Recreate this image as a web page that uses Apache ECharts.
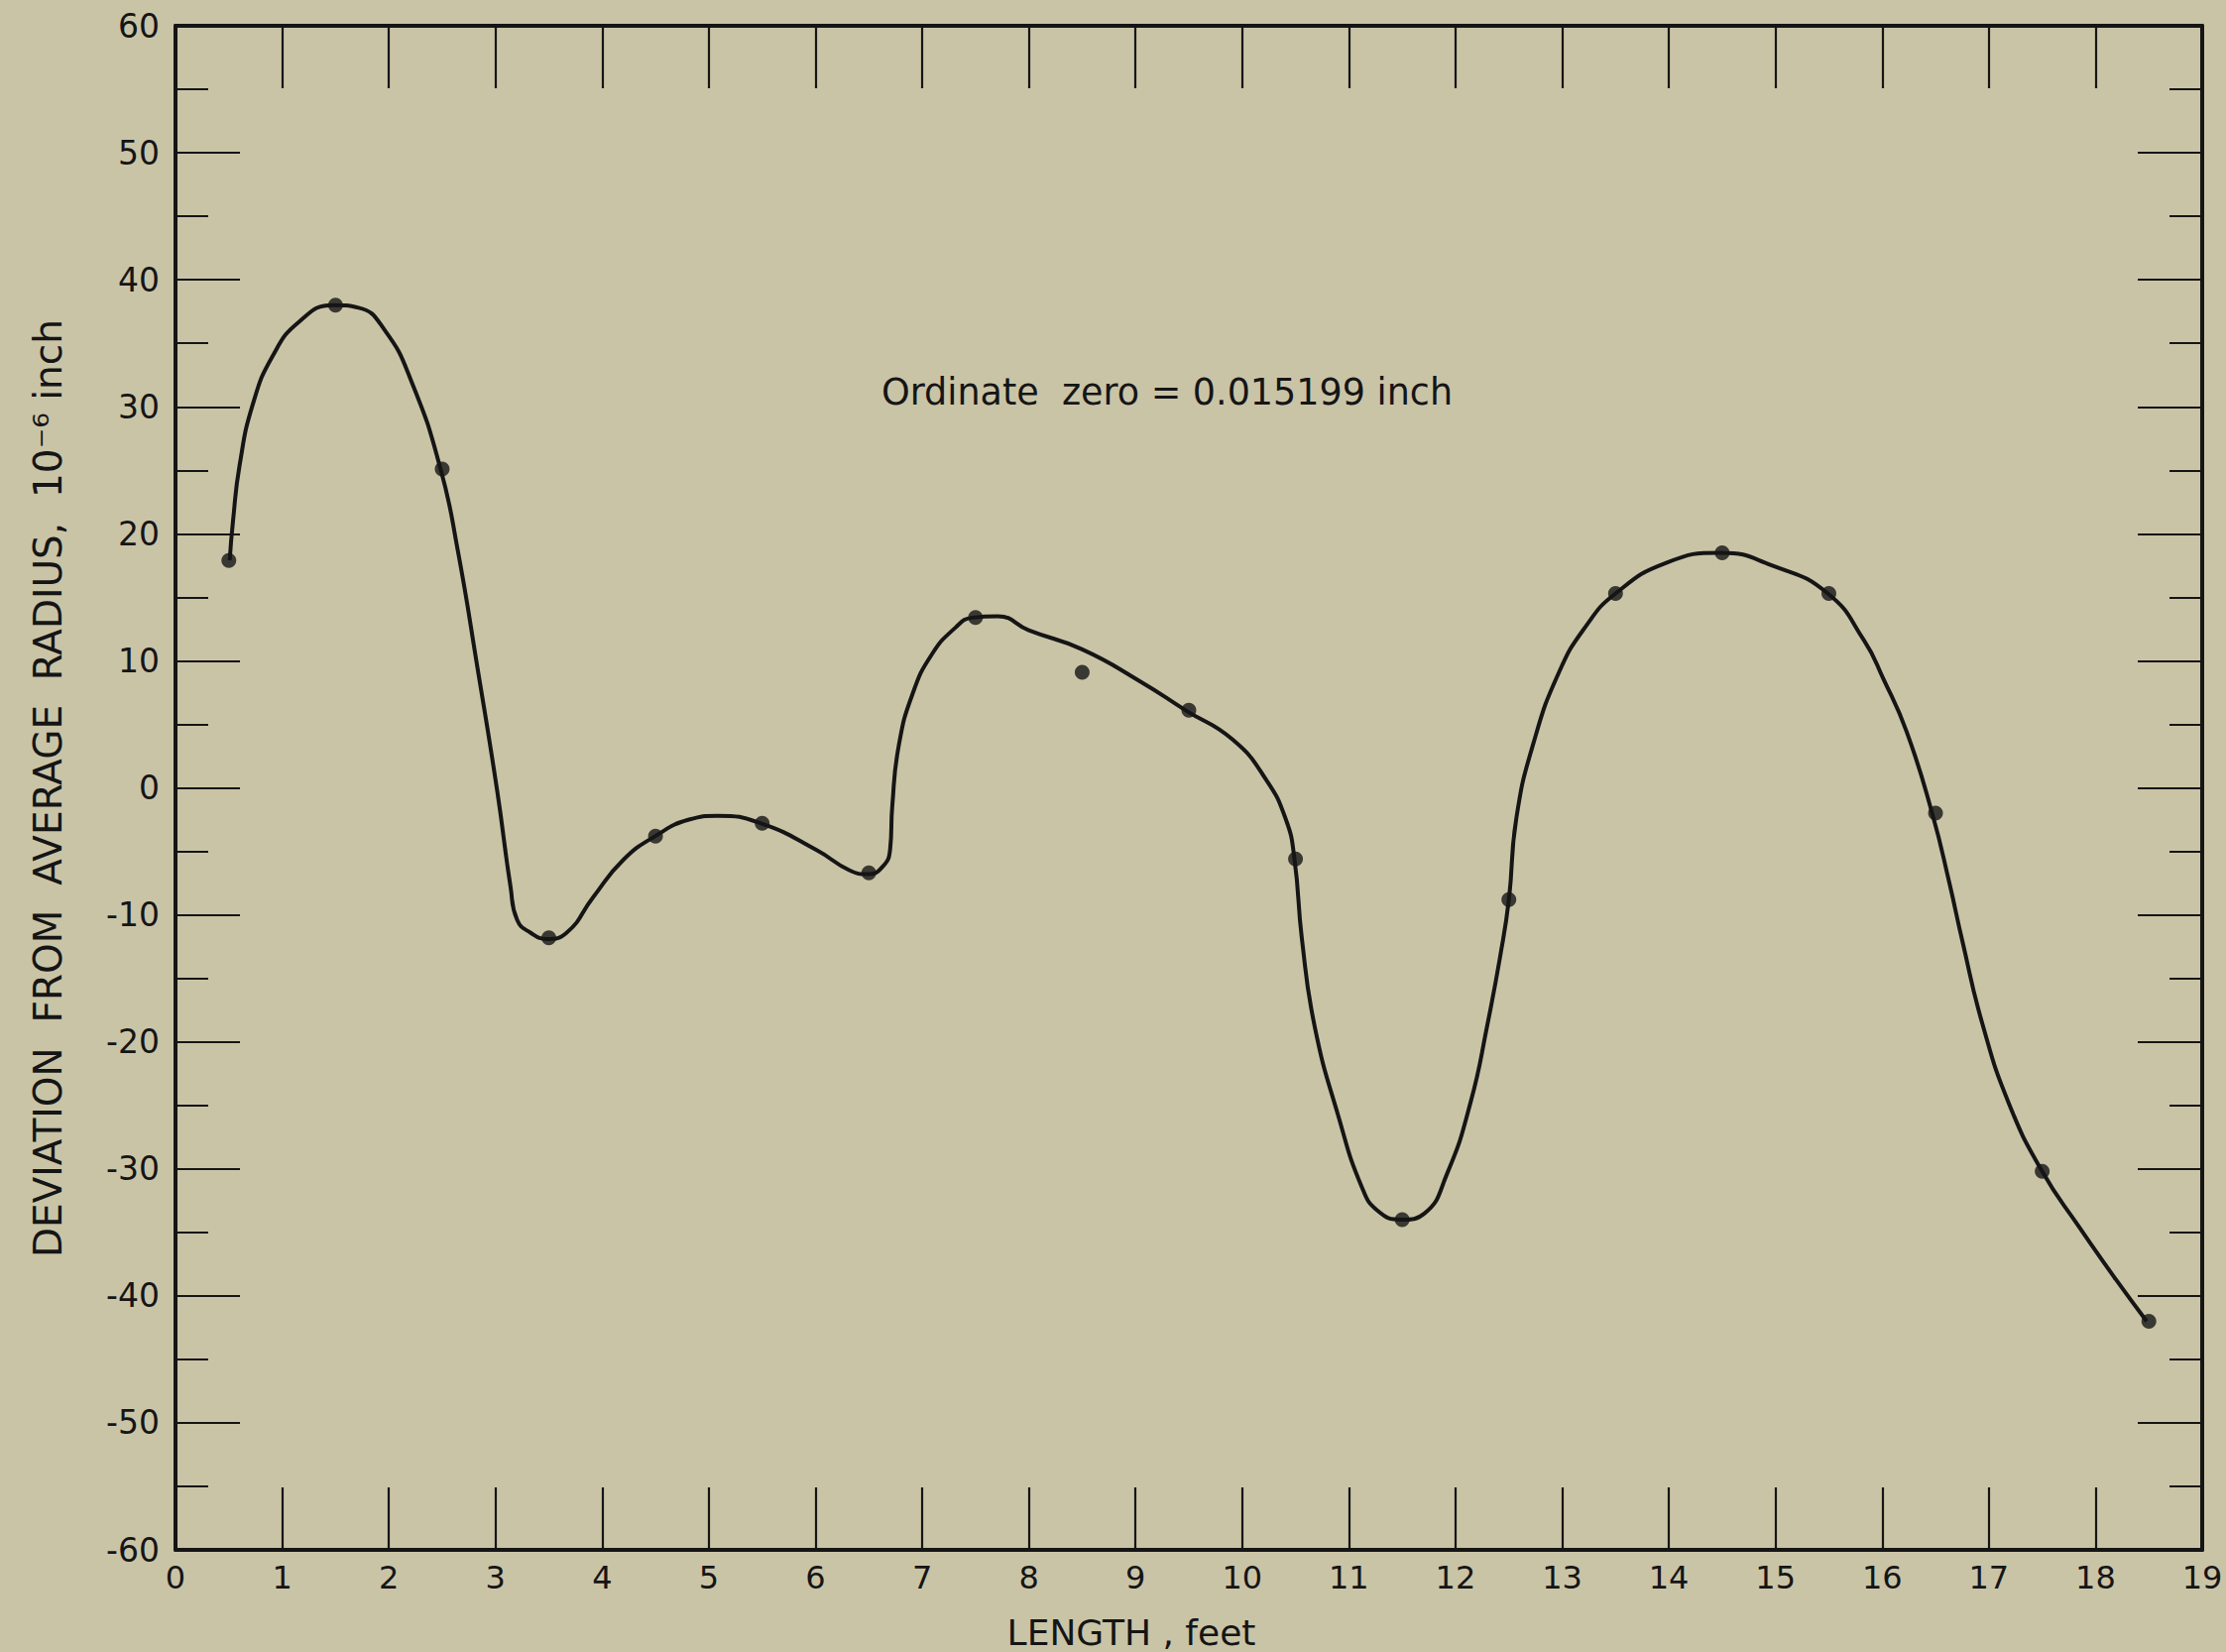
<!DOCTYPE html>
<html>
<head>
<meta charset="utf-8">
<script src="https://cdn.jsdelivr.net/npm/echarts@6/dist/echarts.min.js"></script>
<style>
html,body{margin:0;padding:0;background:#cac4a7;}
#chart{width:2245px;height:1666px;}
</style>
</head>
<body>
<div id="chart"></div>
<script>
// Observed points (length in feet, deviation in 10^-6 inch)
const pointLengths = [0.5, 1.5, 2.5, 3.5, 4.5, 5.5, 6.5, 7.5, 8.5, 9.5, 10.5, 11.5, 12.5, 13.5, 14.5, 15.5, 16.5, 17.5, 18.5];
const pointDeviations = [17.9, 38.0, 25.1, -11.8, -3.8, -2.8, -6.7, 13.4, 9.1, 6.1, -5.6, -34.0, -8.8, 15.3, 18.5, 15.3, -2.0, -30.2, -42.0];

// Hand-drawn smooth curve
const curveLengths = [0.508, 0.539, 0.601, 0.725, 0.911, 1.159, 1.478, 1.716, 1.964, 2.212, 2.485, 2.646, 2.832, 3.017, 3.141, 3.203, 3.327, 3.482, 3.668, 3.916, 4.195, 4.498, 4.814, 5.08, 5.49, 6.01, 6.32, 6.49, 6.63, 6.70, 6.72, 6.78, 6.91, 7.09, 7.31, 7.47, 7.71, 8.0, 8.5, 9.04, 9.47, 9.91, 10.22, 10.41, 10.49, 10.56, 10.68, 10.90, 11.12, 11.27, 11.49, 11.71, 11.92, 12.14, 12.30, 12.42, 12.50, 12.57, 12.73, 12.97, 13.22, 13.50, 13.97, 14.49, 14.97, 15.49, 15.83, 16.01, 16.23, 16.47, 16.63, 16.75, 16.94, 17.19, 17.50, 17.84, 18.19, 18.48];
const curveDeviations = [17.9, 21.0, 25.4, 30.2, 34.0, 36.7, 38.0, 37.8, 36.0, 32.0, 25.1, 18.7, 9.4, -0.3, -7.8, -10.4, -11.4, -11.9, -11.4, -8.6, -5.7, -3.8, -2.5, -2.2, -2.8, -4.9, -6.5, -6.8, -6.2, -4.8, -1.4, 3.3, 7.4, 10.5, 12.6, 13.4, 13.5, 12.4, 10.9, 8.4, 6.1, 3.8, 0.7, -2.5, -5.6, -11.9, -18.8, -25.8, -31.4, -33.3, -34.0, -33.5, -30.4, -24.8, -18.6, -13.2, -8.8, -2.4, 3.5, 9.1, 12.7, 15.3, 17.7, 18.5, 17.5, 15.3, 11.6, 8.6, 4.4, -2.05, -7.5, -12.0, -18.6, -24.9, -30.2, -34.5, -38.7, -42.0];

// Axis tick labels
const xTickLabels = ['0','1','2','3','4','5','6','7','8','9','10','11','12','13','14','15','16','17','18','19'];
const yTickLabels = ['-60','-50','-40','-30','-20','-10','0','10','20','30','40','50','60'];

const xTitle = 'LENGTH , feet';
const yTitle = 'DEVIATION  FROM  AVERAGE  RADIUS,  10\u207B\u2076 inch';
const note = 'Ordinate  zero = 0.015199 inch';

const ink = '#151515';
const font = '"DejaVu Sans", sans-serif';

const curveData = curveLengths.map((x, i) => [x, curveDeviations[i]]);
const pointData = pointLengths.map((x, i) => [x, pointDeviations[i]]);

const chart = echarts.init(document.getElementById('chart'), null, {renderer: 'svg'});

function xAxisBase(pos, showLabels) {
  return {
    type: 'value', position: pos, min: 0, max: 19, interval: 1,
    axisLine: {show: true, onZero: false, lineStyle: {color: ink, width: 4}},
    axisTick: {show: true, inside: true, length: 63, lineStyle: {color: ink, width: 2.2}},
    axisLabel: {show: showLabels, color: ink, fontFamily: font, fontSize: 32, margin: 12,
      formatter: v => xTickLabels[Math.round(v)]},
    splitLine: {show: false}
  };
}
function yAxisBase(pos, showLabels) {
  return {
    type: 'value', position: pos, min: -60, max: 60, interval: 10,
    axisLine: {show: true, onZero: false, lineStyle: {color: ink, width: 4}},
    axisTick: {show: true, inside: true, length: 65, lineStyle: {color: ink, width: 2.2}},
    minorTick: {show: true, splitNumber: 2, length: 33, lineStyle: {color: ink, width: 2.2}},
    axisLabel: {show: showLabels, color: ink, fontFamily: font, fontSize: 33, margin: 16,
      formatter: v => yTickLabels[Math.round((v + 60) / 10)]},
    splitLine: {show: false},
    minorSplitLine: {show: false}
  };
}

chart.setOption({
  backgroundColor: '#cac4a7',
  animation: false,
  grid: {left: 177, right: 24, top: 26, bottom: 103, containLabel: false},
  xAxis: [xAxisBase('bottom', true), xAxisBase('top', false)],
  yAxis: [yAxisBase('left', true), yAxisBase('right', false)],
  series: [
    {
      type: 'line', name: 'curve', data: curveData, smooth: 0.5,
      showSymbol: false, symbol: 'none',
      lineStyle: {color: ink, width: 4}, z: 3
    },
    {
      type: 'scatter', name: 'observed', data: pointData,
      symbol: 'circle', symbolSize: 15,
      itemStyle: {color: ink}, z: 4
    }
  ],
  graphic: [
    {type: 'text', x: 48, y: 795, rotation: Math.PI / 2,
      style: {text: yTitle, fontFamily: font, fontSize: 39, fill: ink, align: 'center', verticalAlign: 'middle'}},
    {type: 'text', x: 1141, y: 1646,
      style: {text: xTitle, fontFamily: font, fontSize: 36, fill: ink, align: 'center', verticalAlign: 'middle'}},
    {type: 'text', x: 889, y: 395,
      style: {text: note, fontFamily: font, fontSize: 36.5, fill: ink, align: 'left', verticalAlign: 'middle'}}
  ]
});
</script>
</body>
</html>
